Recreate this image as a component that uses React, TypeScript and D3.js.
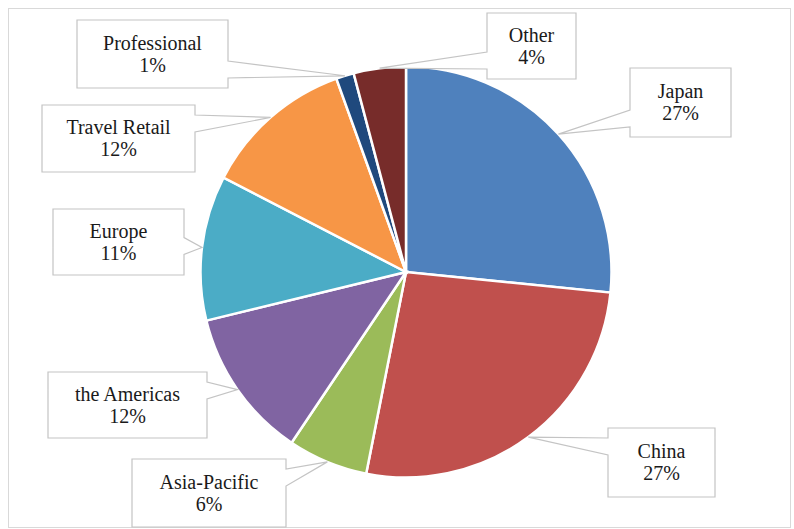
import React from "react";
import * as d3 from "d3";

const categories = ["Japan", "China", "Asia-Pacific", "the Americas", "Europe", "Travel Retail", "Professional", "Other"];
const shares = [26.6, 26.5, 6.3, 11.8, 11.4, 11.9, 1.4, 4.1];
const colors = ["#4F81BD", "#C0504D", "#9BBB59", "#8064A2", "#4BACC6", "#F79646", "#1F497D", "#772C2A"];

// label box layout (x0, y0, x1, y1) per category
const labelBoxes: Record<string, [number, number, number, number]> = {
  "Japan": [630, 68, 731, 137],
  "China": [608, 428, 715, 497],
  "Asia-Pacific": [132, 459, 286, 527],
  "the Americas": [48, 372, 207, 438],
  "Europe": [53, 209, 184, 275],
  "Travel Retail": [42, 105, 195, 172],
  "Professional": [77, 20, 228, 88],
  "Other": [487, 13, 576, 79],
};

const W = 794, H = 529;
const cx = 406, cy = 272, R = 205.5;
const FONT = "Liberation Serif";

export default function App() {
  const data = categories.map((c, i) => ({ name: c, value: shares[i], color: colors[i] }));
  const pie = d3.pie<any>().sort(null).value((d) => d.value).startAngle(0).endAngle(2 * Math.PI);
  const arcs = pie(data);
  const arc = d3.arc<any>().innerRadius(0).outerRadius(R);
  const rim = d3.arc<any>().innerRadius(R).outerRadius(R);

  const callout = (a: any) => {
    const [x0, y0, x1, y1] = labelBoxes[a.data.name];
    const [ax0, ay0] = rim.centroid(a);
    const ax = ax0 + cx, ay = ay0 + cy;
    const bl = 17;
    const b0 = Math.max(y0 + 10, Math.min(y1 - 10 - bl, ay - 10));
    const b1 = b0 + bl;
    const p = d3.path();
    p.moveTo(x0, y0);
    p.lineTo(x1, y0);
    if (ax > x1) {
      p.lineTo(x1, b0);
      p.lineTo(ax, ay);
      p.lineTo(x1, b1);
    }
    p.lineTo(x1, y1);
    p.lineTo(x0, y1);
    if (ax < x0) {
      p.lineTo(x0, b1);
      p.lineTo(ax, ay);
      p.lineTo(x0, b0);
    }
    p.closePath();
    const tx = (x0 + x1) / 2, tm = (y0 + y1) / 2;
    return (
      <g key={a.data.name}>
        <path d={p.toString()} fill="#ffffff" stroke="#c4c4c4" strokeWidth={1.2} />
        <text x={tx} y={tm - 11 + 6.5} textAnchor="middle" fontFamily={FONT} fontSize={20} fill="#1a1a1a">
          {a.data.name}
        </text>
        <text x={tx} y={tm + 11 + 6.5} textAnchor="middle" fontFamily={FONT} fontSize={20} fill="#1a1a1a">
          {Math.round(a.data.value) + "%"}
        </text>
      </g>
    );
  };

  return (
    <svg width={W} height={H} style={{ position: "absolute", left: 0, top: 0, background: "#ffffff" }}>
      <rect x={0} y={0} width={W} height={H} fill="#ffffff" />
      <rect x={8.5} y={8.5} width={782} height={519} fill="none" stroke="#d9d9d9" strokeWidth={1} />
      <g transform={`translate(${cx},${cy})`}>
        {arcs.map((a) => (
          <path key={a.data.name} d={arc(a) as string} fill={a.data.color} stroke="#ffffff" strokeWidth={2.5} />
        ))}
      </g>
      {arcs.map((a) => callout(a))}
    </svg>
  );
}
